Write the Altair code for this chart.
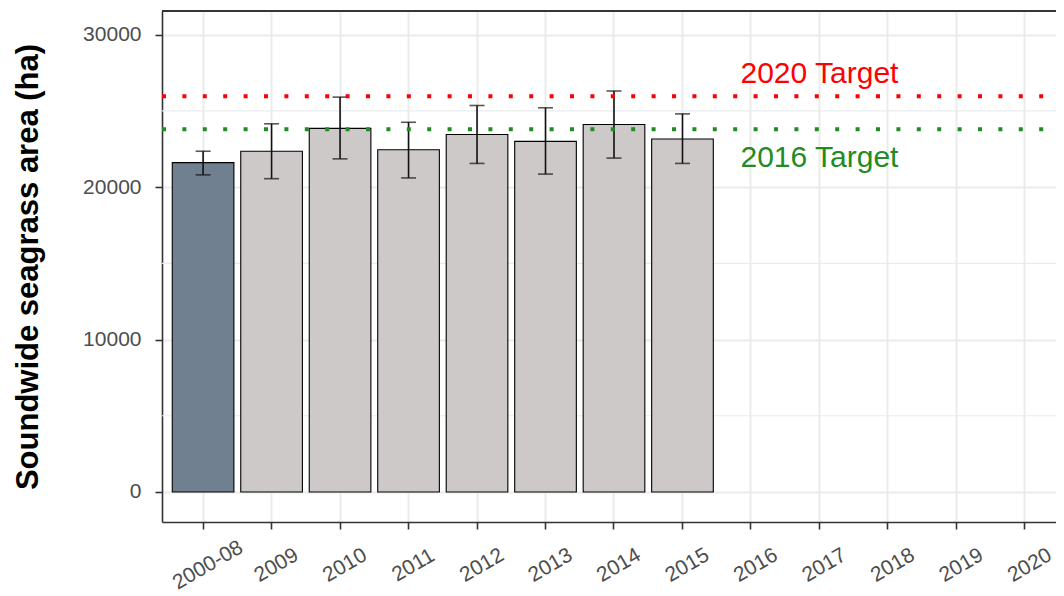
import altair as alt
import pandas as pd

# ---- data ----
categories = ["2000-08", "2009", "2010", "2011", "2012", "2013", "2014",
              "2015", "2016", "2017", "2018", "2019", "2020"]
bar_years = ["2000-08", "2009", "2010", "2011", "2012", "2013", "2014", "2015"]
bar_area = [21600, 22350, 23850, 22450, 23450, 23000, 24100, 23150]
err_low = [20800, 20550, 21850, 20600, 21550, 20850, 21900, 21550]
err_high = [22350, 24150, 25900, 24250, 25350, 25200, 26300, 24800]
bar_group = ["baseline", "annual", "annual", "annual", "annual", "annual", "annual", "annual"]

target_names = ["2020 Target", "2016 Target"]
target_values = [25950, 23800]
target_label_year = ["2017", "2017"]
target_label_y = [26800, 21340]
target_colors = ["#ff0000", "#228b22"]

y_ticks = [0, 10000, 20000, 30000]
y_minor = [5000, 15000, 25000]
y_domain = [-1968, 31548]

FONT = "Liberation Sans"
YTITLE = "Soundwide seagrass area (ha)"

bars = pd.DataFrame({"year": bar_years, "area": bar_area, "lo": err_low,
                     "hi": err_high, "group": bar_group})
targets = pd.DataFrame({"name": target_names, "value": target_values,
                        "year": target_label_year, "ly": target_label_y})
minor = pd.DataFrame({"v": y_minor})

PLOT_W = 894
BAND_RANGE = 904
PLOT_H = 511

xscale = alt.Scale(domain=categories, range=[0, BAND_RANGE],
                   paddingInner=0.1, paddingOuter=0.15)
yscale = alt.Scale(domain=y_domain, nice=False, zero=False)

xaxis = alt.Axis(title=None, labelAngle=-30, labelAlign="center",
                 labelBaseline="middle", labelPadding=36, labelOffset=5,
                 labelFontSize=21, labelFont=FONT, labelColor="#4d4d4d",
                 labelOverlap=False, labelBound=False, labelFlush=False,
                 tickSize=7, tickColor="#333333", tickWidth=1.6,
                 domainColor="#333333", domainWidth=1.6,
                 grid=True, gridColor="#ebebeb", gridWidth=2, bandPosition=0.5)
yaxis = alt.Axis(values=y_ticks, format="d", labelFontSize=21, labelFont=FONT,
                 labelColor="#4d4d4d", labelPadding=14,
                 tickSize=7, tickColor="#333333", tickWidth=1.6,
                 domainColor="#333333", domainWidth=1.6,
                 grid=True, gridColor="#ebebeb", gridWidth=2,
                 titleFont=FONT, titleFontSize=31, titleFontWeight="bold",
                 titleColor="#000000", titleAngle=270, titleAlign="center",
                 titleBaseline="alphabetic", titleX=-125, titleY=PLOT_H / 2)

def X(field):
    return alt.X(field, type="nominal", scale=xscale, axis=xaxis)

def Y(field):
    return alt.Y(field, type="quantitative", scale=yscale, axis=yaxis, title=YTITLE)

minor_grid = alt.Chart(minor).mark_rule(color="#ebebeb", strokeWidth=1.2).encode(
    y=Y("v"), x=alt.value(0), x2=alt.value(BAND_RANGE))

bar_layer = alt.Chart(bars).mark_bar(stroke="#000000", strokeWidth=1.1).encode(
    x=X("year"), y=Y("area"),
    y2=alt.Y2(datum=0),
    color=alt.Color("group:N", scale=alt.Scale(domain=["baseline", "annual"],
                                               range=["#708090", "#cdc9c9"]),
                    legend=None))

err_rule = alt.Chart(bars).mark_rule(color="#111111", strokeWidth=1.6).encode(
    x=X("year"), y=Y("lo"), y2="hi")

err_caps = alt.Chart(bars).transform_fold(["lo", "hi"], as_=["end", "ev"]).mark_tick(
    color="#111111", size=15, thickness=1.6).encode(x=X("year"), y=Y("ev"))

target_lines = alt.Chart(targets).mark_rule(strokeWidth=4, strokeDash=[4, 16.4],
                                            strokeCap="butt").encode(
    y=Y("value"), x=alt.value(0), x2=alt.value(BAND_RANGE),
    stroke=alt.Stroke("name:N", scale=alt.Scale(domain=target_names, range=target_colors),
                      legend=None))

target_text = alt.Chart(targets).mark_text(fontSize=30, font=FONT, align="center",
                                           baseline="alphabetic").encode(
    x=X("year"), y=Y("ly"), text="name:N",
    fill=alt.Fill("name:N", scale=alt.Scale(domain=target_names, range=target_colors),
                  legend=None))

top_border = alt.Chart(minor).mark_rule(color="#333333", strokeWidth=1.6).encode(
    y=alt.value(0), x=alt.value(0), x2=alt.value(BAND_RANGE))

chart = alt.layer(minor_grid, bar_layer, err_rule, err_caps, target_lines,
                  target_text, top_border).resolve_scale(
    color="independent", stroke="independent", fill="independent"
).properties(
    width=PLOT_W, height=PLOT_H,
    autosize=alt.AutoSizeParams(type="none"),
    padding={"left": 154, "top": 3, "right": 0, "bottom": 74},
    background="#ffffff",
).configure_view(stroke=None)

chart.save("out.html", embed_options={"renderer": "svg", "actions": False})
